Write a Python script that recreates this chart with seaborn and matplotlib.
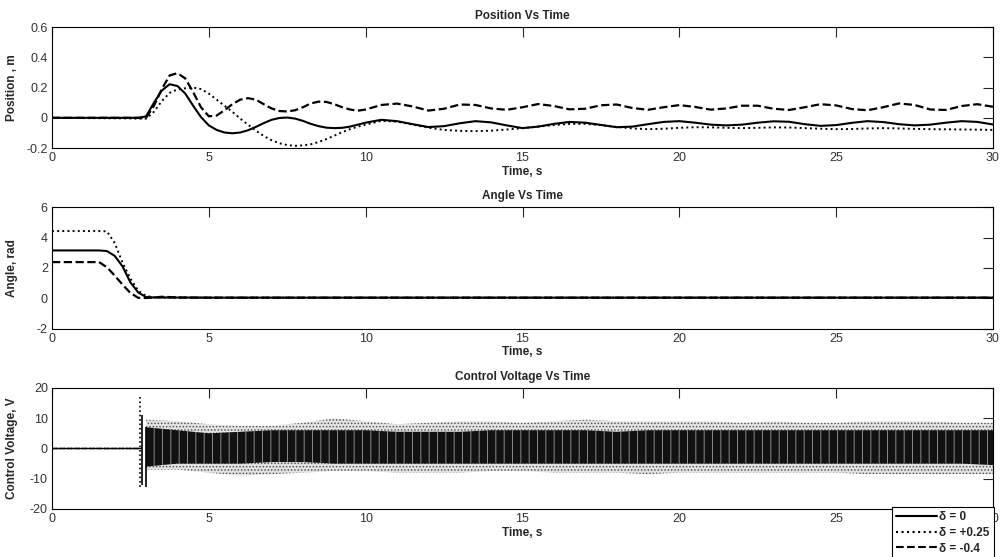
'''
Pendulum on cart - position, angle and control voltage vs time
three delta cases, matlab style stacked plot
'''
import numpy as np
import pandas as pd
import matplotlib
matplotlib.use('Agg')
import matplotlib.pyplot as plt
import seaborn as sns

# ---- data ----
# position panel, time in s
t_pos = [0, 2.5, 2.75, 3.0, 3.25, 3.5, 3.75, 4.0, 4.25, 4.5, 4.75, 5.0, 5.25, 5.5, 5.75,
         6.0, 6.25, 6.5, 6.75, 7.0, 7.25, 7.5, 7.75, 8.0, 8.25, 8.5, 8.75, 9.0, 9.25, 9.5,
         9.75, 10.0, 10.5, 11.0, 11.5, 12.0, 12.5, 13.0, 13.5, 14.0, 14.5, 15.0, 15.5, 16.0,
         16.5, 17.0, 17.5, 18.0, 18.5, 19.0, 19.5, 20.0, 20.5, 21.0, 21.5, 22.0, 22.5, 23.0,
         23.5, 24.0, 24.5, 25.0, 25.5, 26.0, 26.5, 27.0, 27.5, 28.0, 28.5, 29.0, 29.5, 30.0]
pos_d0 = [0, 0, 0, 0.01, 0.10, 0.18, 0.222, 0.21, 0.16, 0.08, 0.005, -0.05, -0.08, -0.097, -0.102,
          -0.097, -0.082, -0.06, -0.035, -0.013, -0.001, 0.002, -0.005, -0.02, -0.04, -0.055, -0.065, -0.068, -0.066, -0.058,
          -0.045, -0.032, -0.013, -0.022, -0.042, -0.061, -0.055, -0.036, -0.022, -0.03, -0.05, -0.068, -0.058, -0.04,
          -0.027, -0.032, -0.047, -0.062, -0.058, -0.042, -0.027, -0.022, -0.032, -0.045, -0.05, -0.045, -0.032, -0.023,
          -0.026, -0.042, -0.053, -0.048, -0.033, -0.022, -0.028, -0.042, -0.05, -0.045, -0.032, -0.022, -0.027, -0.044]
pos_dp = [0, -0.004, -0.006, -0.005, 0.04, 0.11, 0.165, 0.188, 0.195, 0.2, 0.19, 0.16, 0.12, 0.08, 0.04,
          -0.005, -0.045, -0.085, -0.12, -0.148, -0.168, -0.18, -0.185, -0.182, -0.175, -0.16, -0.14, -0.118, -0.095, -0.075,
          -0.058, -0.045, -0.02, -0.025, -0.045, -0.065, -0.08, -0.086, -0.088, -0.085, -0.077, -0.068, -0.058, -0.048,
          -0.04, -0.04, -0.048, -0.06, -0.07, -0.075, -0.072, -0.066, -0.062, -0.063, -0.066, -0.068, -0.066, -0.063,
          -0.064, -0.068, -0.072, -0.075, -0.074, -0.07, -0.068, -0.07, -0.073, -0.075, -0.076, -0.077, -0.078, -0.08]
pos_dm = [0, 0, 0, 0.0, 0.08, 0.19, 0.28, 0.295, 0.26, 0.17, 0.07, 0.01, 0.015, 0.05, 0.09,
          0.12, 0.13, 0.12, 0.09, 0.062, 0.045, 0.042, 0.05, 0.07, 0.095, 0.107, 0.105, 0.09, 0.07, 0.055,
          0.047, 0.055, 0.085, 0.094, 0.075, 0.048, 0.06, 0.088, 0.085, 0.062, 0.053, 0.07, 0.091, 0.078,
          0.056, 0.06, 0.083, 0.088, 0.065, 0.053, 0.07, 0.084, 0.072, 0.054, 0.062, 0.08, 0.08, 0.06,
          0.052, 0.07, 0.09, 0.082, 0.058, 0.05, 0.07, 0.095, 0.085, 0.055, 0.052, 0.078, 0.09, 0.073]

# angle panel
t_ang = [0, 1.5, 1.75, 2.0, 2.25, 2.5, 2.75, 3.0, 3.25, 3.5, 3.75, 4.0, 5.0, 30.0]
ang_d0 = [3.16, 3.16, 3.12, 2.8, 2.1, 1.05, 0.38, 0.08, 0.05, 0.05, 0.05, 0.05, 0.04, 0.04]
ang_dp = [4.44, 4.44, 4.42, 3.65, 2.35, 1.3, 0.5, 0.15, 0.07, 0.05, 0.05, 0.05, 0.04, 0.04]
ang_dm = [2.39, 2.39, 2.05, 1.5, 0.9, 0.35, 0.03, 0.02, 0.05, 0.1, 0.08, 0.05, 0.04, 0.04]

# control voltage - signal is a dense chatter, kept as envelope per second
t_v = [3, 4, 5, 6, 7, 8, 9, 10, 11, 12, 13, 14, 15, 16, 17, 18, 19, 20,
       21, 22, 23, 24, 25, 26, 27, 28, 29, 30]
v_d0_hi = [7, 6, 5, 5.5, 6, 6, 6, 6, 5.5, 5.5, 5.5, 6, 6, 6, 6, 5.5, 6, 6,
           6, 6, 6, 6, 6, 6, 6, 6, 6, 6]
v_d0_lo = [-6, -5, -5, -5, -4.5, -4.5, -5, -5, -5, -5, -5, -5, -5, -5, -5, -5, -5, -5,
           -5, -5, -5, -5, -5, -5, -5, -5, -5, -5.5]
v_dp_hi = [9.5, 9, 8, 7.5, 7.5, 8.5, 10, 9, 8, 8.5, 9, 9, 8.5, 9, 9.5, 9, 9, 9,
           9, 8.5, 9, 8.5, 8.5, 9, 9, 9, 8.5, 8.5]
v_dp_lo = [-7, -7, -8, -9, -8.5, -8, -7.5, -7.5, -8, -8, -8, -7.5, -7.5, -8, -8, -8, -8.5, -8,
           -8, -8, -8, -8, -8, -8.5, -8.5, -8.5, -8.5, -8.5]
# first switching spikes
spike_t = [2.82, 2.86, 3.0]
spike_lo = [-12.6, -12, -12.6]
spike_hi = [17.6, 11, 7]
t_v_flat = [0, 2.85]
v_flat = [0, 0]

legend_labels = ['\u03b4 = 0', '\u03b4 = +0.25', '\u03b4 = -0.4']
styles = ['-', ':', '--']

sns.set_style('white')
plt.rcParams['font.family'] = ['Liberation Sans', 'DejaVu Sans']
plt.rcParams['hatch.linewidth'] = 0.7

fig, axes = plt.subplots(3, 1, figsize=(10, 5.57), dpi=100)
fig.subplots_adjust(left=0.052, right=0.993, top=1 - 27 / 557, bottom=1 - 509 / 557, hspace=0.49)
ax1, ax2, ax3 = axes

pos_df = pd.DataFrame({'t': t_pos, 'd0': pos_d0, 'dp': pos_dp, 'dm': pos_dm})
ang_df = pd.DataFrame({'t': t_ang, 'd0': ang_d0, 'dp': ang_dp, 'dm': ang_dm})

for col, ls, lw in zip(['dp', 'dm', 'd0'], [':', '--', '-'], [1.4, 1.6, 1.5]):
    sns.lineplot(data=pos_df, x='t', y=col, ax=ax1, color='black', linestyle=ls, lw=lw)
    sns.lineplot(data=ang_df, x='t', y=col, ax=ax2, color='black', linestyle=ls, lw=lw)

# voltage: stippled band for +0.25, dark chatter for 0
ax3.fill_between(t_v, v_dp_lo, v_dp_hi, facecolor='#e4e4e4', edgecolor='#555555', hatch='.....', lw=0)
ax3.fill_between(t_v, v_d0_lo, v_d0_hi, facecolor='#111111', edgecolor='#8a8a8a', hatch='||', lw=0)
ax3.vlines(spike_t, spike_lo, spike_hi, colors='black', linestyles=[':', '-', '-'], lw=1.2)
handles = []
for lab, ls in zip(legend_labels, styles):
    sns.lineplot(x=t_v_flat, y=v_flat, ax=ax3, color='black', linestyle=ls, lw=1.0)
    handles.append(plt.Line2D([], [], color='black', linestyle=ls, lw=1.5, label=lab))

titles = ['Position Vs Time', 'Angle Vs Time', 'Control Voltage Vs Time']
ylabels = ['Position , m', 'Angle, rad', 'Control Voltage, V']
yticks = [[-0.2, 0, 0.2, 0.4, 0.6], [-2, 0, 2, 4, 6], [-20, -10, 0, 10, 20]]
ytick_labels = [['-0.2', '0', '0.2', '0.4', '0.6'], ['-2', '0', '2', '4', '6'],
                ['-20', '-10', '0', '10', '20']]

for ax, ttl, yl, yt, ytl in zip(axes, titles, ylabels, yticks, ytick_labels):
    ax.set_xlim(0, 30)
    ax.set_ylim(yt[0], yt[-1])
    ax.set_xticks([0, 5, 10, 15, 20, 25, 30])
    ax.set_xticklabels(['0', '5', '10', '15', '20', '25', '30'])
    ax.set_yticks(yt)
    ax.set_yticklabels(ytl)
    ax.tick_params(direction='in', length=7, width=0.8, top=True, right=True,
                   labelsize=9, labelcolor='#333333', pad=3)
    for sp in ax.spines.values():
        sp.set_color('black')
        sp.set_linewidth(0.8)
    ax.set_title(ttl, fontsize=8.5, fontweight='bold', pad=6)
    ax.set_xlabel('Time, s', fontsize=8.5, fontweight='bold', labelpad=1)
    ax.set_ylabel(yl, fontsize=8.5, fontweight='bold')
    ax.yaxis.set_label_coords(-0.036, 0.5)
    ax.grid(False)

# legend box hangs below the last axes, right edge on the axes frame
leg = fig.legend(handles=handles, loc='lower right', bbox_to_anchor=(0.994, -0.004),
                 borderaxespad=0.0, frameon=True, fancybox=False, framealpha=1,
                 edgecolor='black', handlelength=3.4, handletextpad=0.2,
                 borderpad=0.4, labelspacing=0.3,
                 prop={'weight': 'bold', 'size': 8.5})
leg.get_frame().set_linewidth(0.8)

fig.savefig('out.png', dpi=100)
